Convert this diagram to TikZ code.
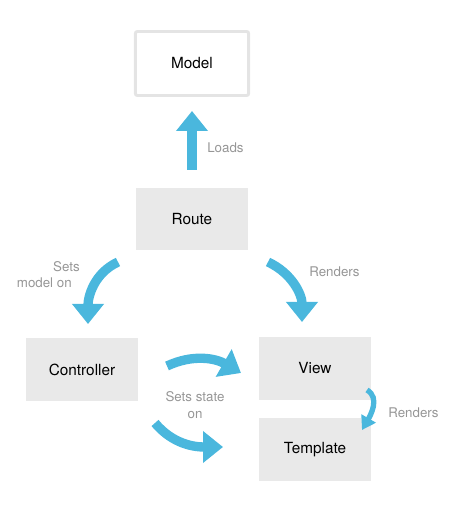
\documentclass[tikz,border=0pt]{standalone}
\usepackage{fontspec}
\setmainfont{TeX Gyre Heros}
\usepackage{xcolor}
\usetikzlibrary{arrows.meta}
\definecolor{flowblue}{RGB}{74,183,221}
\definecolor{boxgray}{RGB}{233,233,233}
\definecolor{edgegray}{RGB}{228,228,228}
\definecolor{labelgray}{RGB}{150,150,150}

\begin{document}
\begin{tikzpicture}[x=0.75pt, y=0.75pt,
  box/.style={fill=boxgray, minimum width=84pt, minimum height=47pt, font=\fontsize{11.5}{13}\selectfont},
  modelbox/.style={draw=edgegray, line width=2.2pt, fill=white, rounded corners=1.5pt, minimum width=85pt, minimum height=48pt, font=\fontsize{11.5}{13}\selectfont},
  flow/.style={draw=flowblue, line width=7pt, -{Triangle[width=23pt,length=15pt]}},
  smallflow/.style={draw=flowblue, line width=4pt, -{Triangle[width=12pt,length=10pt]}},
  tag/.style={text=labelgray, font=\fontsize{10}{12.5}\selectfont, inner sep=0pt}]
  \useasboundingbox (0,0) rectangle (451,519);
  % boxes
  \node[modelbox] (model) at (192,455.5) {Model};
  \node[box] (route) at (192,300) {Route};
  \node[box] (ctrl) at (82,149.5) {Controller};
  \node[box] (view) at (315,150.5) {View};
  \node[box] (tmpl) at (315,69.5) {Template};
  % arrow ends
  \coordinate (loadsA) at (192,349);
  \coordinate (loadsB) at (192,408);
  \coordinate (setA) at (118,257);
  \coordinate (setB) at (88,195);
  \coordinate (rendA) at (268,257);
  \coordinate (rendB) at (302,197);
  \coordinate (viewA) at (167,153);
  \coordinate (viewB) at (241,146);
  \coordinate (tmplA) at (155,96);
  \coordinate (tmplB) at (223,72);
  \coordinate (subA) at (367,129);
  \coordinate (subB) at (362,89);
  % arrows
  \draw[flow] (loadsA) -- (loadsB);
  \draw[flow] (setA) to[out=205,in=90] (setB);
  \draw[flow] (rendA) to[out=-25,in=90] (rendB);
  \draw[flow] (viewA) to[out=25,in=150] (viewB);
  \draw[flow] (tmplA) to[out=-50,in=180] (tmplB);
  \draw[smallflow] (subA) to[out=-30,in=60] (subB);
  % labels
  \node[tag, anchor=west] (loadsT) at (207,371) {Loads};
  \node[tag, anchor=east, align=right] (setT) at (80,244.5) {Sets\\model on\hspace*{6pt}};
  \node[tag, anchor=west] (rendT) at (309,247) {Renders};
  \node[tag, align=center] (stateT) at (195,114) {Sets state\\on};
  \node[tag, anchor=west] (subT) at (388,106) {Renders};
\end{tikzpicture}
\end{document}
